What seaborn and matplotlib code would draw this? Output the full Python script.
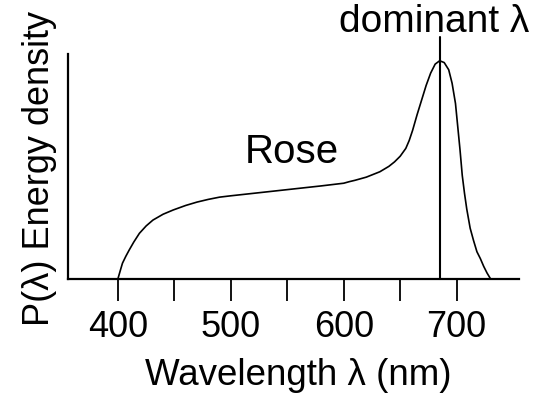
import matplotlib
matplotlib.use("Agg")
import matplotlib.pyplot as plt
import seaborn as sns
import pandas as pd

# ---- data ----
wavelength = [400, 402, 404, 407, 410, 414, 419, 425, 431, 440, 449, 460, 470, 480, 490,
              500, 520, 540, 560, 580, 600, 605, 610, 620, 632, 640, 645, 650, 655, 658,
              661, 665, 669, 673, 677, 681, 685, 689, 693, 696, 699, 703, 705, 707, 709,
              712, 715, 718, 721, 724, 727, 730]
energy = [0.0, 0.035, 0.069, 0.1, 0.128, 0.163, 0.202, 0.235, 0.261, 0.287, 0.306, 0.326,
          0.341, 0.353, 0.363, 0.369, 0.38, 0.391, 0.402, 0.413, 0.425, 0.432, 0.438,
          0.452, 0.476, 0.50, 0.52, 0.545, 0.58, 0.615, 0.66, 0.73, 0.795, 0.86, 0.915,
          0.955, 0.97, 0.962, 0.93, 0.87, 0.78, 0.575, 0.46, 0.38, 0.31, 0.225, 0.17,
          0.12, 0.09, 0.055, 0.025, 0.0]
dominant_wl = 685
dominant_top = 1.077
tick_positions = [400, 450, 500, 550, 600, 650, 700]
tick_labels = ["400", "", "500", "", "600", "", "700"]
curve_label = "Rose"
dominant_label = "dominant λ"
x_label = "Wavelength λ (nm)"
y_label = "P(λ) Energy density"

df = pd.DataFrame({"wavelength": wavelength, "energy": energy})

sns.set_style("white")
plt.rcParams["font.family"] = ["Liberation Sans", "DejaVu Sans"]

fig = plt.figure(figsize=(5.56, 3.94), dpi=100)
ax = fig.add_axes([0.1228, 0.2926, 0.8101, 0.5703])

sns.lineplot(data=df, x="wavelength", y="energy", ax=ax, color="black",
             linewidth=1.2, sort=False)

ax.plot([dominant_wl, dominant_wl], [0, dominant_top], color="black",
        linewidth=1.5, clip_on=False)

ax.set_xlim(356, 755)
ax.set_ylim(0, 1)

ax.set_xticks(tick_positions)
ax.set_xticklabels(tick_labels)
ax.set_yticks([])
ax.tick_params(axis="x", direction="out", length=15.8, width=1.3, pad=7,
               labelsize=26, colors="black", bottom=True)

for s in ["top", "right"]:
    ax.spines[s].set_visible(False)
for s in ["left", "bottom"]:
    ax.spines[s].set_color("black")
    ax.spines[s].set_linewidth(1.6)

ax.set_xlabel(x_label, fontsize=26.5, color="black")
ax.xaxis.set_label_coords(0.51, -0.352)
ax.set_ylabel(y_label, fontsize=26, color="black")
ax.yaxis.set_label_coords(-0.024, 0.49)

ax.text(512, 0.514, curve_label, fontsize=29, ha="left", va="baseline", color="black")
ax.text(596, 1.098, dominant_label, fontsize=28, ha="left", va="baseline",
        color="black", clip_on=False)

fig.savefig("out.png", dpi=100)
